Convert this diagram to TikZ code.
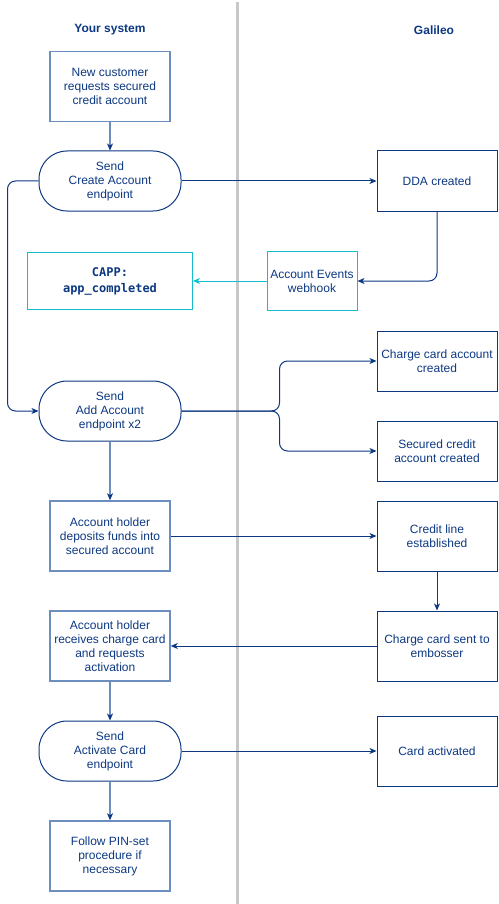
\documentclass[tikz,border=0pt]{standalone}
\usepackage{fontspec}
\setmainfont{Liberation Sans}
\newfontfamily\capfont{DejaVu Sans Mono}
\usetikzlibrary{arrows.meta}
\definecolor{navy}{RGB}{12,56,130}
\definecolor{paleblue}{RGB}{108,142,191}
\definecolor{hookcyan}{RGB}{20,190,205}
\definecolor{lanegray}{RGB}{200,200,200}

\begin{document}
\begin{tikzpicture}[x=1pt,y=-1pt,
    every node/.style={font=\fontsize{12}{14}\selectfont,text=navy,align=center,inner sep=0pt},
    galbox/.style={draw=navy,line width=1pt,minimum width=120pt,minimum height=60pt},
    sysbox/.style={draw=paleblue,line width=1.5pt,minimum width=120pt,minimum height=70pt},
    sendbox/.style={draw=navy,line width=1pt,rounded corners=28pt,minimum width=142pt,minimum height=60pt},
    hookbox/.style={draw=hookcyan,line width=1pt},
    link/.style={draw=navy,line width=1pt,-{Stealth[length=7pt,width=6pt,inset=2pt]}},
    sysflow/.style={draw=paleblue,line width=1.5pt,-{Stealth[length=7pt,width=6pt,inset=2pt,color=navy]}}]
      \useasboundingbox (0,0) rectangle (498,904);
      \draw[lanegray,line width=2.5pt] (237.5,2) -- (237.5,904);
      \node[font=\bfseries\fontsize{12}{14}\selectfont] (yours) at (110,30) {Your system};
      \node[font=\bfseries\fontsize{12}{14}\selectfont] (galileo) at (434,30) {Galileo};
      \node[sysbox] (request) at (110,86.5) {New customer\\requests secured\\credit account};
      \node[sendbox] (create) at (110,181) {Send\\Create Account\\endpoint};
      \node[galbox] (dda) at (437,181) {DDA created};
      \node[hookbox,minimum width=90pt,minimum height=59pt] (webhook) at (312,281) {Account Events\\webhook};
      \node[hookbox,minimum width=165pt,minimum height=57pt,font=\capfont\bfseries\fontsize{12}{16}\selectfont] (capp) at (110,281) {CAPP:\\app\_completed};
      \node[sendbox] (addacc) at (110,411) {Send\\Add Account\\endpoint x2};
      \node[galbox] (chargeacc) at (437,361) {Charge card account\\created};
      \node[galbox] (secured) at (437,451) {Secured credit\\account created};
      \node[sysbox] (deposit) at (110,536) {Account holder\\deposits funds into\\secured account};
      \node[galbox,minimum height=70pt] (creditline) at (437,536) {Credit line\\established};
      \node[sysbox] (receive) at (110,646) {Account holder\\receives charge card\\and requests\\activation};
      \node[galbox,minimum height=70pt] (embosser) at (437,646) {Charge card sent to\\embosser};
      \node[sendbox] (activate) at (110,751) {Send\\Activate Card\\endpoint};
      \node[galbox,minimum height=70pt] (activated) at (437,751) {Card activated};
      \node[sysbox] (pinset) at (110,856) {Follow PIN-set\\procedure if\\necessary};
      \draw[sysflow] (request) -- (create);
      \draw[link] (create) -- (dda);
      \draw[link,rounded corners=8pt] (dda) |- (webhook);
      \draw[link,draw=hookcyan] (webhook) -- (capp);
      \draw[link,rounded corners=8pt] (create.west) -- ++(-31,0) |- (addacc);
      \draw[link,rounded corners=8pt] (addacc.east) -- ++(98,0) |- (chargeacc.west);
      \draw[link,rounded corners=8pt] (addacc.east) -- ++(98,0) |- (secured.west);
      \draw[sysflow] (addacc) -- (deposit);
      \draw[link] (deposit) -- (creditline);
      \draw[link] (creditline) -- (embosser);
      \draw[link] (embosser) -- (receive);
      \draw[sysflow] (receive) -- (activate);
      \draw[link] (activate) -- (activated);
      \draw[sysflow] (activate) -- (pinset);
    \end{tikzpicture}
\end{document}
